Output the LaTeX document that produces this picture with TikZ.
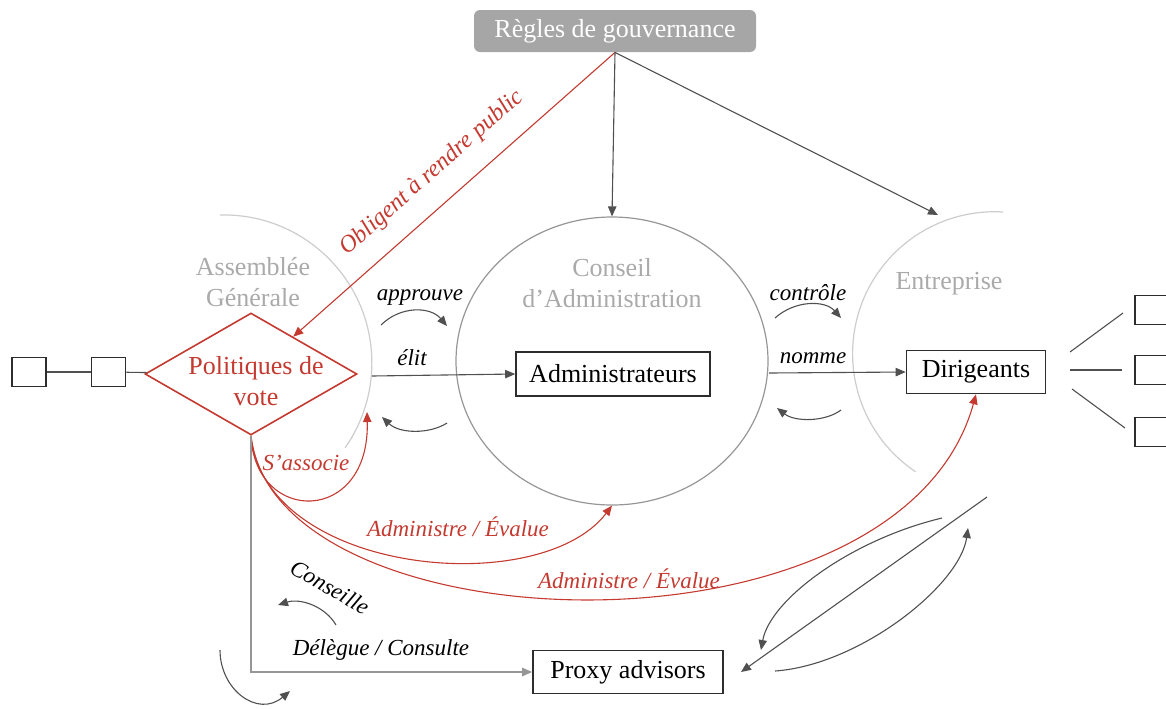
\documentclass[tikz,border=0pt]{standalone}
\usepackage{fontspec}
\setmainfont{Liberation Serif}
\usetikzlibrary{arrows.meta,shapes.geometric}
\definecolor{myred}{RGB}{196,58,48}
\definecolor{dk}{RGB}{45,45,45}
\definecolor{ln}{RGB}{80,80,80}
\definecolor{lgray}{RGB}{205,205,205}
\definecolor{mgray}{RGB}{150,150,150}
\definecolor{tgray}{RGB}{170,170,170}
\definecolor{govfill}{RGB}{166,166,166}
\begin{document}
\begin{tikzpicture}[x=0.5pt,y=-0.5pt,
  >={Triangle[length=5pt,width=4.2pt]},
  mainfont/.style={font=\fontsize{13}{15.5}\selectfont},
  box/.style={draw=dk, line width=0.8pt, mainfont, inner sep=0pt, minimum height=22pt},
  lab/.style={font=\fontsize{11.5}{13}\selectfont\itshape, text=black},
  rlab/.style={lab, text=myred},
  glab/.style={mainfont, text=tgray, align=center},
  conn/.style={draw=ln, line width=0.55pt},
  rconn/.style={draw=myred, line width=0.55pt},
  sbox/.style={draw=dk, line width=0.8pt, minimum width=17pt, minimum height=14.5pt, inner sep=0pt},
]
\useasboundingbox (0,0) rectangle (1166,708);

% main nodes
\node[fill=govfill, rounded corners=3pt, text=white, mainfont, minimum width=141pt, minimum height=21pt, inner sep=0pt] (gov) at (615,31) {Règles de gouvernance};
\node[ellipse, draw=mgray, line width=0.6pt, minimum width=156pt, minimum height=144pt, inner sep=0pt] (ca) at (612,361) {};
\node[box, minimum width=97pt] (adm) at (613,374) {Administrateurs};
\node[box, minimum width=69.5pt, minimum height=21.5pt] (dir) at (976,372) {Dirigeants};
\node[box, minimum width=95pt, minimum height=21.5pt] (prx) at (628,672) {Proxy advisors};
\node[diamond, draw=myred, line width=0.8pt, minimum width=106pt, minimum height=61pt, inner sep=0pt] (pol) at (251,374) {};
\node[mainfont, text=myred, align=center] (poltxt) at (256,381) {Politiques de\\vote};

% group titles
\node[glab] (agt) at (253,282) {Assemblée\\Générale};
\node[glab] (cat) at (612,283) {Conseil\\d’Administration};
\node[glab] (ent) at (949,284) {Entreprise};

% arcs
\draw[lgray, line width=0.6pt] (220,215) arc[start angle=91.5, end angle=-35, radius=74pt];
\draw[lgray, line width=0.6pt] (1003,212) arc[start angle=86.6, end angle=236.2, radius=71pt];

% small boxes
\node[sbox] (l1) at (29,372) {};
\node[sbox] (l2) at (108.5,372) {};
\node[sbox] (b1) at (1152,310) {};
\node[sbox] (b2) at (1152,370) {};
\node[sbox] (b3) at (1152,432) {};
\draw[conn] (l1) -- (l2);
\draw[conn] (l2) -- (pol);
\coordinate (d1) at (1070,352); \coordinate (e1) at (1123,313);
\coordinate (d2) at (1070,370); \coordinate (e2) at (1122,370);
\coordinate (d3) at (1072,389); \coordinate (e3) at (1125,428);
\draw[conn] (d1) -- (e1);
\draw[conn] (d2) -- (e2);
\draw[conn] (d3) -- (e3);

% governance arrows
\coordinate (entA) at (938,215);
\draw[rconn,->] (gov.south) -- (pol);
\draw[conn,->] (gov.south) -- (ca.north);
\draw[conn,->] (gov.south) -- (entA);
\node[rlab, font=\fontsize{12}{14}\selectfont\itshape, rotate=41.6] (obl) at (432,173) {Obligent à rendre public};

% elit / nomme
\coordinate (elitS) at (372,376);
\coordinate (nomS) at (769,373);
\draw[conn,->] (elitS) -- (adm.west);
\draw[conn,->] (nomS) -- (dir.west);
\node[lab] (elit) at (412,358) {élit};
\node[lab] (nomme) at (813,358) {nomme};

% curved small arrows
\coordinate (ap1) at (381,325); \coordinate (ap2) at (447,326);
\coordinate (bk1) at (447,423); \coordinate (bk2) at (382,417);
\coordinate (co1) at (775,318); \coordinate (co2) at (841,318);
\coordinate (bk3) at (841,410); \coordinate (bk4) at (777,408);
\draw[conn,->] (ap1) .. controls (400,306) and (430,306) .. (ap2);
\draw[conn,->] (bk1) .. controls (430,434) and (400,434) .. (bk2);
\draw[conn,->] (co1) .. controls (795,300) and (825,300) .. (co2);
\draw[conn,->] (bk3) .. controls (825,422) and (795,422) .. (bk4);
\node[lab] (appr) at (420,298) {approuve};
\node[lab] (ctrl) at (808,293) {contrôle};

% red curves
\coordinate (assocE) at (367,412);
\draw[rconn,->] (pol.south) .. controls (255,525) and (370,525) .. (assocE);
\draw[rconn,->] (pol.south) .. controls (265,575) and (540,600) .. (ca.south);
\draw[rconn,->] (pol.south) .. controls (275,650) and (900,670) .. (dir.south);
\node[rlab] (assoc) at (306,463) {S’associe};
\node[rlab] (ae1) at (458,527) {Administre / Évalue};
\node[rlab] (ae2) at (629,579) {Administre / Évalue};

% delegation
\draw[draw=mgray, line width=0.6pt, ->] (pol.south) |- (prx.west);
\node[lab] (deleg) at (381,650) {Délègue / Consulte};
\node[lab, rotate=-30] (cons) at (330,587) {Conseille};
\coordinate (cs1) at (336,625); \coordinate (cs2) at (278,605);
\draw[conn,->] (cs1) .. controls (325,606) and (300,598) .. (cs2);
\coordinate (bl1) at (220,650); \coordinate (bl2) at (290,691);
\draw[conn,->] (bl1) .. controls (220,690) and (258,718) .. (bl2);

% right exchange with proxy advisors
\coordinate (rtop) at (987,497);
\coordinate (rtip) at (741,672);
\coordinate (ra1) at (942,518); \coordinate (ra2) at (761,650);
\coordinate (rb1) at (775,671); \coordinate (rb2) at (968,528);
\draw[conn,->] (rtop) -- (rtip);
\draw[conn,->] (ra1) .. controls (850,540) and (770,600) .. (ra2);
\draw[conn,->] (rb1) .. controls (860,665) and (960,585) .. (rb2);
\end{tikzpicture}
\end{document}
